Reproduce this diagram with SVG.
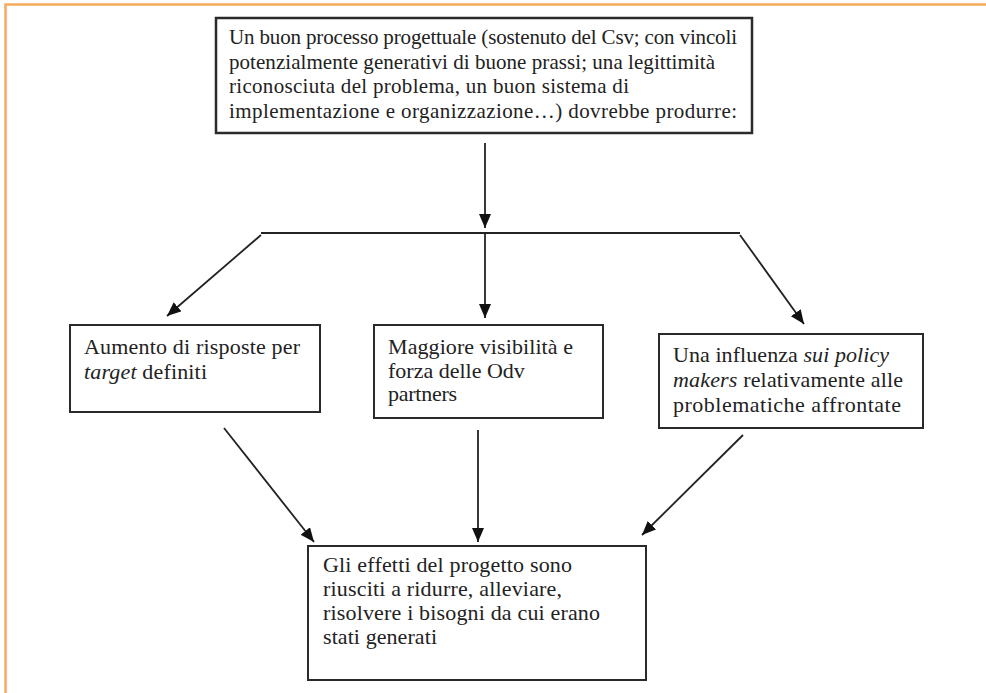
<svg xmlns="http://www.w3.org/2000/svg" width="986" height="693" viewBox="0 0 986 693">
<style>
.frame{stroke:#f6ab5c;stroke-width:2.5;fill:none}
.box{fill:#fff;stroke:#2a2a2a;stroke-width:2}
.t{font-family:'Liberation Serif','Times New Roman','DejaVu Serif',serif;font-size:21px;fill:#222}
.s{font-size:22px}
.c{stroke:#222;stroke-width:1.8;fill:none}
</style>
<defs>
<marker id="ah" markerUnits="userSpaceOnUse" markerWidth="16" markerHeight="14" refX="14" refY="6" orient="auto">
<path d="M0,0 L14,6 L0,12 Z" fill="#111"/>
</marker>
</defs>
<rect width="986" height="693" fill="#fff"/>
<path class="frame" d="M5.5,693 V4.5 H986"/>
<g id="connectors">
<line class="c" x1="485" y1="143" x2="485" y2="228" marker-end="url(#ah)"/>
<line class="c" x1="261" y1="233" x2="740" y2="233"/>
<line class="c" x1="485" y1="233" x2="485" y2="318" marker-end="url(#ah)"/>
<line class="c" x1="261" y1="235" x2="167" y2="316" marker-end="url(#ah)"/>
<line class="c" x1="740" y1="235" x2="804" y2="324" marker-end="url(#ah)"/>
<line class="c" x1="224" y1="428" x2="314" y2="542" marker-end="url(#ah)"/>
<line class="c" x1="478" y1="430" x2="478" y2="542" marker-end="url(#ah)"/>
<line class="c" x1="743" y1="435" x2="642" y2="535" marker-end="url(#ah)"/>
</g>
<g id="top">
<rect class="box" x="216" y="18" width="536" height="115" style="stroke-width:2.5"/>
<text class="t" x="229" y="44" textLength="508">Un buon processo progettuale (sostenuto del Csv; con vincoli</text>
<text class="t" x="229" y="68.5" textLength="486">potenzialmente generativi di buone prassi; una legittimità</text>
<text class="t" x="229" y="93" textLength="400">riconosciuta del problema, un buon sistema di</text>
<text class="t" x="229" y="117.5" textLength="508">implementazione e organizzazione…) dovrebbe produrre:</text>
</g>
<g id="left">
<rect class="box" x="70" y="325" width="250" height="87"/>
<text class="t s" x="84" y="354" textLength="216">Aumento di risposte per</text>
<text class="t s" x="84" y="378.5" textLength="123"><tspan font-style="italic">target</tspan> definiti</text>
</g>
<g id="middle">
<rect class="box" x="374" y="325" width="229" height="93"/>
<text class="t s" x="388" y="354" textLength="185">Maggiore visibilità e</text>
<text class="t s" x="388" y="377.5">forza delle Odv</text>
<text class="t s" x="388" y="401" textLength="69">partners</text>
</g>
<g id="right">
<rect class="box" x="659" y="334" width="264" height="94"/>
<text class="t s" x="673" y="362" textLength="216">Una influenza <tspan font-style="italic">sui policy</tspan></text>
<text class="t s" x="673" y="387" textLength="230"><tspan font-style="italic">makers</tspan> relativamente alle</text>
<text class="t s" x="673" y="412" textLength="228">problematiche affrontate</text>
</g>
<g id="bottom">
<rect class="box" x="308" y="546" width="338" height="134"/>
<text class="t s" x="323" y="572" textLength="249">Gli effetti del progetto sono</text>
<text class="t s" x="323" y="596" textLength="239">riusciti a ridurre, alleviare,</text>
<text class="t s" x="323" y="620" textLength="277">risolvere i bisogni da cui erano</text>
<text class="t s" x="323" y="644" textLength="114">stati generati</text>
</g>
</svg>
